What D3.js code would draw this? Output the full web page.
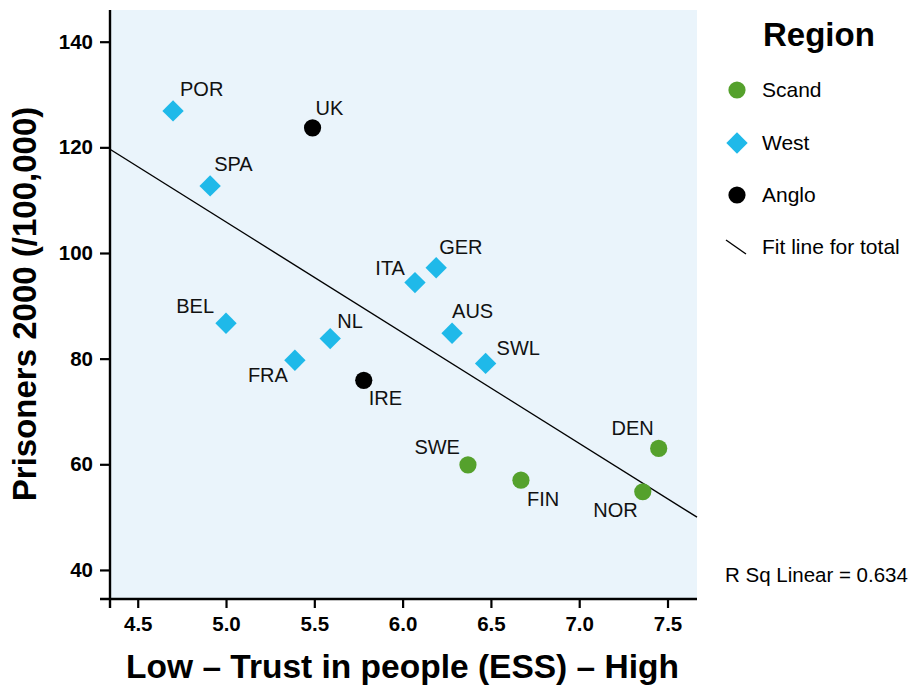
<!DOCTYPE html>
<html>
<head>
<meta charset="utf-8">
<script src="https://cdn.jsdelivr.net/npm/d3@7"></script>
<style>
  html, body { margin: 0; padding: 0; background: #fff; }
  svg { display: block; font-family: "Liberation Sans", Arial, Helvetica, sans-serif; }
</style>
</head>
<body>
<svg id="chart" width="911" height="686"></svg>
<script>
// Countries, their region, trust score (ESS) and prisoners per 100,000 in 2000
const countries = ["POR", "SPA", "UK", "BEL", "NL", "FRA", "IRE", "GER", "ITA", "AUS", "SWL", "SWE", "FIN", "DEN", "NOR"];
const regions   = ["West", "West", "Anglo", "West", "West", "West", "Anglo", "West", "West", "West", "West", "Scand", "Scand", "Scand", "Scand"];
const trust     = [4.70, 4.91, 5.49, 5.00, 5.59, 5.39, 5.78, 6.19, 6.07, 6.28, 6.47, 6.37, 6.67, 7.45, 7.36];
const prisoners = [126.9, 112.7, 123.7, 86.7, 83.8, 79.7, 75.9, 97.2, 94.4, 84.8, 79.1, 59.9, 57.0, 63.0, 54.8];

const xTicks = [4.5, 5.0, 5.5, 6.0, 6.5, 7.0, 7.5];
const yTicks = [40, 60, 80, 100, 120, 140];

const legendRegions = ["Scand", "West", "Anglo"];
const rSquaredLabel = "R Sq Linear = 0.634";

// Label placement relative to each point: [dx, dy, anchor]
const labelPlacement = {
  POR: [7, -15, "start"], SPA: [4, -15, "start"], UK: [3, -13, "start"],
  BEL: [-12, -10, "end"], NL: [7, -11, "start"], FRA: [-7, 22, "end"],
  IRE: [5, 25, "start"], GER: [3, -14, "start"], ITA: [-10, -8, "end"],
  AUS: [0, -15, "start"], SWL: [11, -8, "start"], SWE: [-8, -11, "end"],
  FIN: [6, 26, "start"], DEN: [-5, -13, "end"], NOR: [-5, 25, "end"]
};

const regionColor = { Scand: "#55a12c", West: "#1fb9e9", Anglo: "#000000" };

// Circles for Scand/Anglo, square turned 45° (diamond) for West
function marker(sel, region) {
  if (region === "West") {
    sel.append("path")
      .attr("d", d3.symbol(d3.symbolSquare, 228)())
      .attr("transform", "rotate(45)")
      .attr("fill", regionColor[region]);
  } else {
    sel.append("circle").attr("r", 8.6).attr("fill", regionColor[region]);
  }
}

const data = countries.map((c, i) => ({ name: c, region: regions[i], x: trust[i], y: prisoners[i] }));

const svg = d3.select("#chart");
const plot = { left: 110, right: 697, top: 10, bottom: 599 };

const x = d3.scaleLinear().domain([4.343, 7.667]).range([plot.left, plot.right]);
const y = d3.scaleLinear().domain([34.5, 146]).range([plot.bottom, plot.top]);

// Plot background
svg.append("rect")
  .attr("x", plot.left).attr("y", plot.top)
  .attr("width", plot.right - plot.left).attr("height", plot.bottom - plot.top)
  .attr("fill", "#eaf4fb");

// Axes
const xAxis = svg.append("g")
  .attr("transform", `translate(0,${plot.bottom})`)
  .call(d3.axisBottom(x).tickValues(xTicks).tickFormat(d3.format(".1f")).tickSize(9).tickSizeOuter(0).tickPadding(8));
const yAxis = svg.append("g")
  .attr("transform", `translate(${plot.left},0)`)
  .call(d3.axisLeft(y).tickValues(yTicks).tickFormat(d3.format("d")).tickSize(10).tickSizeOuter(0).tickPadding(7));

[xAxis, yAxis].forEach(g => {
  g.select(".domain").remove();
  g.selectAll(".tick line").attr("stroke", "#000").attr("stroke-width", 2.2);
  g.selectAll(".tick text")
    .attr("fill", "#000")
    .style("font-family", "'Liberation Sans', Arial, sans-serif")
    .style("font-size", "20.5px")
    .style("font-weight", "bold");
});

// Axis lines, each running a tick's length past the corner
svg.append("line")
  .attr("x1", plot.left).attr("x2", plot.left)
  .attr("y1", plot.top).attr("y2", plot.bottom + 9)
  .attr("stroke", "#000").attr("stroke-width", 2.4);
svg.append("line")
  .attr("x1", plot.left - 10).attr("x2", plot.right)
  .attr("y1", plot.bottom).attr("y2", plot.bottom)
  .attr("stroke", "#000").attr("stroke-width", 2.4);

// Least-squares fit over all countries
const mx = d3.mean(trust), my = d3.mean(prisoners);
const sxy = d3.sum(trust, (t, i) => (t - mx) * (prisoners[i] - my));
const sxx = d3.sum(trust, t => (t - mx) * (t - mx));
const slope = sxy / sxx, intercept = my - slope * mx;
const [x0, x1] = x.domain();
svg.append("line")
  .attr("x1", x(x0)).attr("y1", y(intercept + slope * x0))
  .attr("x2", x(x1)).attr("y2", y(intercept + slope * x1))
  .attr("stroke", "#000").attr("stroke-width", 1.4);

// Points
svg.append("g").selectAll("g")
  .data(data)
  .join("g")
  .attr("transform", d => `translate(${x(d.x)},${y(d.y)})`)
  .each(function (d) { marker(d3.select(this), d.region); });

// Country labels
svg.append("g").selectAll("text")
  .data(data)
  .join("text")
  .attr("x", d => x(d.x) + labelPlacement[d.name][0])
  .attr("y", d => y(d.y) + labelPlacement[d.name][1])
  .attr("text-anchor", d => labelPlacement[d.name][2])
  .style("font-size", "20px")
  .attr("fill", "#111")
  .text(d => d.name);

// Axis titles
svg.append("text")
  .attr("x", (plot.left + plot.right) / 2 - 1)
  .attr("y", 678)
  .attr("text-anchor", "middle")
  .style("font-size", "33.5px")
  .style("font-weight", "bold")
  .text("Low – Trust in people (ESS) – High");

svg.append("text")
  .attr("transform", "translate(36,304) rotate(-90)")
  .attr("text-anchor", "middle")
  .style("font-size", "33px")
  .style("font-weight", "bold")
  .text("Prisoners 2000 (/100,000)");

// Legend
const legend = svg.append("g");
legend.append("text")
  .attr("x", 763).attr("y", 46)
  .style("font-size", "33px")
  .style("font-weight", "bold")
  .text("Region");

const rowY = [90, 143, 195, 247];
legendRegions.forEach((r, i) => {
  marker(legend.append("g").attr("transform", `translate(737,${rowY[i]})`), r);
  legend.append("text")
    .attr("x", 762).attr("y", rowY[i] + 7)
    .style("font-size", "21px")
    .text(r);
});
legend.append("line")
  .attr("x1", 726).attr("y1", rowY[3] - 7)
  .attr("x2", 746).attr("y2", rowY[3] + 7)
  .attr("stroke", "#000").attr("stroke-width", 1.4);
legend.append("text")
  .attr("x", 762).attr("y", rowY[3] + 7)
  .style("font-size", "21px")
  .text("Fit line for total");

svg.append("text")
  .attr("x", 725).attr("y", 582)
  .style("font-size", "20.5px")
  .text(rSquaredLabel);
</script>
</body>
</html>
